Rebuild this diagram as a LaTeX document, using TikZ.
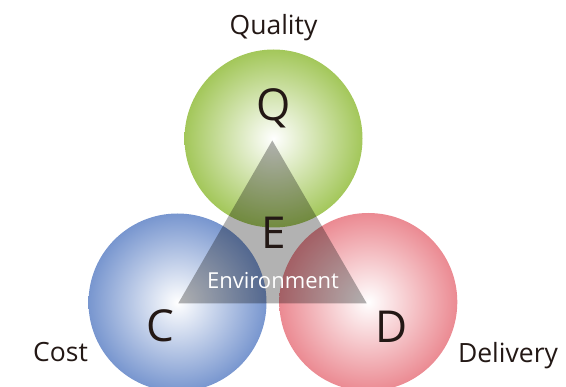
\documentclass[tikz,border=0pt]{standalone}
\usepackage{fontspec}
\setmainfont{Open Sans}
\definecolor{txt}{HTML}{231815}
\definecolor{qgreen}{HTML}{A3C75A}
\definecolor{cblue}{HTML}{7896CF}
\definecolor{dred}{HTML}{EB8A92}
\begin{document}
\begin{tikzpicture}[x=1pt,y=-1pt,
  lbl/.style={inner sep=0pt,anchor=base,text=txt,font=\fontsize{26.5}{30}\selectfont},
  letter/.style={inner sep=0pt,anchor=base,text=txt,font=\fontsize{44}{48}\selectfont},
  ball/.style={inner color=white,outer color=#1}]
\useasboundingbox (0,0) rectangle (566,387);
\shade[ball=qgreen] (273.5,138.5) circle (89);
\shade[ball=cblue] (177.5,302.5) circle (89);
\shade[ball=dred] (368.3,302) circle (89);
\fill[black,opacity=0.3] (272.3,140.5) -- (178.3,303.3) -- (366.7,303.3) -- cycle;
\node[lbl] (quality) at (273.5,35) {Quality};
\node[lbl] (cost) at (60.5,362) {Cost};
\node[lbl] (delivery) at (508,363) {Delivery};
\node[letter] (q) at (274,121) {Q};
\node[letter] (c) at (160,342) {C};
\node[letter] (d) at (392,343) {D};
\node[letter] (e) at (273.5,249) {E};
\node[inner sep=0pt,anchor=base,text=white,font=\fontsize{22}{26}\selectfont] (env) at (273,289) {Environment};
\end{tikzpicture}
\end{document}
